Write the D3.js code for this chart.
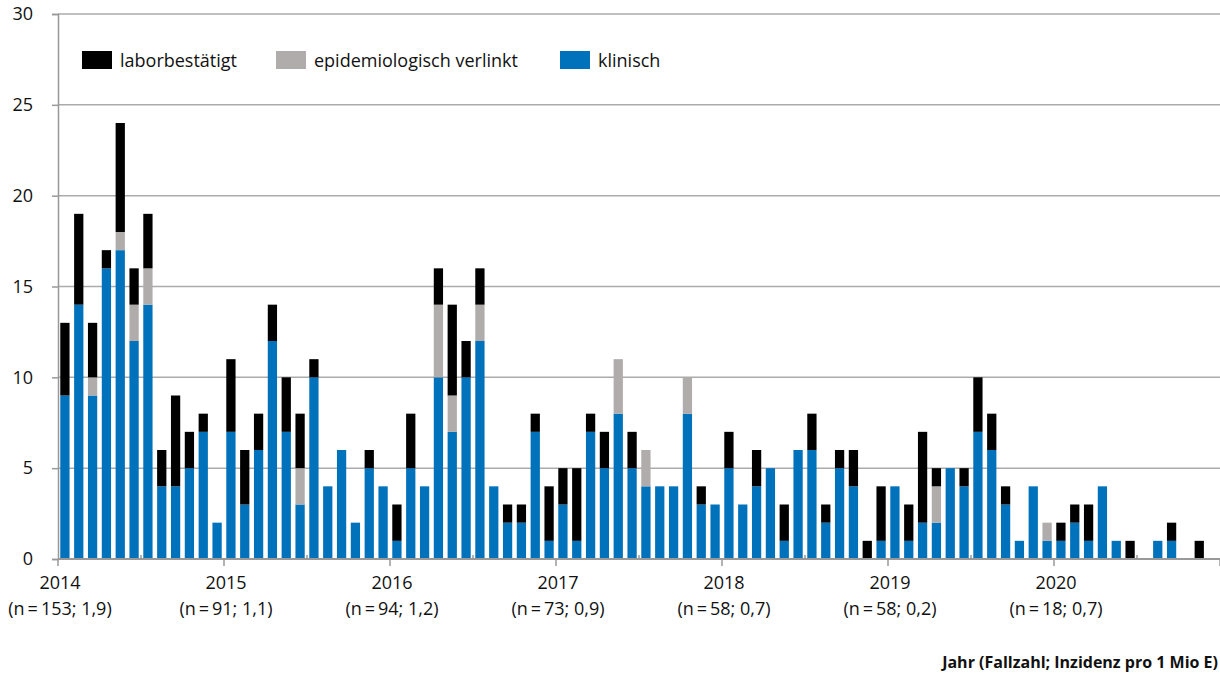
<!DOCTYPE html>
<html>
<head>
<meta charset="utf-8">
<script src="https://cdn.jsdelivr.net/npm/d3@7"></script>
<style>
  body { margin: 0; background: #fff; }
  svg { display: block; font-family: "Open Sans", Lato, sans-serif; }
</style>
</head>
<body>
<div id="chart"></div>
<script>
// monthly case counts 2014-2020 (84 months)
const klinisch = [
  9, 14, 9, 16, 17, 12, 14, 4, 4, 5, 7, 2,
  7, 3, 6, 12, 7, 3, 10, 4, 6, 2, 5, 4,
  1, 5, 4, 10, 7, 10, 12, 4, 2, 2, 7, 1,
  3, 1, 7, 5, 8, 5, 4, 4, 4, 8, 3, 3,
  5, 3, 4, 5, 1, 6, 6, 2, 5, 4, 0, 1,
  4, 1, 2, 2, 5, 4, 7, 6, 3, 1, 4, 1,
  1, 2, 1, 4, 1, 0, 0, 1, 1, 0, 0, 0
];
const epidemiologisch = [
  0, 0, 1, 0, 1, 2, 2, 0, 0, 0, 0, 0,
  0, 0, 0, 0, 0, 2, 0, 0, 0, 0, 0, 0,
  0, 0, 0, 4, 2, 0, 2, 0, 0, 0, 0, 0,
  0, 0, 0, 0, 3, 0, 2, 0, 0, 2, 0, 0,
  0, 0, 0, 0, 0, 0, 0, 0, 0, 0, 0, 0,
  0, 0, 0, 2, 0, 0, 0, 0, 0, 0, 0, 1,
  0, 0, 0, 0, 0, 0, 0, 0, 0, 0, 0, 0
];
const laborbestaetigt = [
  4, 5, 3, 1, 6, 2, 3, 2, 5, 2, 1, 0,
  4, 3, 2, 2, 3, 3, 1, 0, 0, 0, 1, 0,
  2, 3, 0, 2, 5, 2, 2, 0, 1, 1, 1, 3,
  2, 4, 1, 2, 0, 2, 0, 0, 0, 0, 1, 0,
  2, 0, 2, 0, 2, 0, 2, 1, 1, 2, 1, 3,
  0, 2, 5, 1, 0, 1, 3, 2, 1, 0, 0, 0,
  1, 1, 2, 0, 0, 1, 0, 0, 1, 0, 1, 0
];
const years = ["2014", "2015", "2016", "2017", "2018", "2019", "2020"];
const yearInfo = ["(n\u2009=\u2009153; 1,9)", "(n\u2009=\u200991; 1,1)", "(n\u2009=\u200994; 1,2)",
  "(n\u2009=\u200973; 0,9)", "(n\u2009=\u200958; 0,7)", "(n\u2009=\u200958; 0,2)", "(n\u2009=\u200918; 0,7)"];
const yTicks = [0, 5, 10, 15, 20, 25, 30];
const legendLabels = ["laborbestätigt", "epidemiologisch verlinkt", "klinisch"];

const width = 1220, height = 680;
const plotL = 58, plotR = 1220, plotT = 14, plotB = 559;
const colors = { klinisch: "#0071bb", epi: "#b0acab", labor: "#000000" };
const fontSize = 18;

const rows = klinisch.map((k, i) => ({
  i: i, klinisch: k, epi: epidemiologisch[i], labor: laborbestaetigt[i]
}));
const keys = ["klinisch", "epi", "labor"];
const stacked = d3.stack().keys(keys)(rows);

const svg = d3.select("#chart").append("svg")
  .attr("width", width)
  .attr("height", height);

const x = d3.scaleBand()
  .domain(rows.map(d => d.i))
  .range([plotL, plotR])
  .paddingInner(0.33)
  .paddingOuter(0.165);
const xt = d3.scaleLinear().domain([0, 84]).range([plotL, plotR]);
const y = d3.scaleLinear().domain([0, 30]).range([plotB, plotT]);

// gridlines
svg.append("g")
  .selectAll("line")
  .data(yTicks.filter(t => t > 0))
  .join("line")
  .attr("x1", plotL).attr("x2", plotR)
  .attr("y1", d => y(d)).attr("y2", d => y(d))
  .attr("stroke", "#ababab")
  .attr("stroke-width", 1.5);

// y axis
const yAxis = svg.append("g")
  .attr("transform", `translate(${plotL},0)`)
  .call(d3.axisLeft(y).tickValues(yTicks).tickSize(6).tickPadding(19));
yAxis.select(".domain").attr("stroke", "#999").attr("stroke-width", 1.5);
yAxis.selectAll(".tick line").attr("stroke", "#999").attr("stroke-width", 1.5);
yAxis.selectAll(".tick text")
  .attr("font-size", fontSize)
  .attr("font-family", "'Open Sans', sans-serif")
  .attr("fill", "#111");

// bars
svg.append("g")
  .selectAll("g")
  .data(stacked)
  .join("g")
  .attr("fill", d => colors[d.key])
  .selectAll("rect")
  .data(d => d.filter(s => s[1] > s[0]))
  .join("rect")
  .attr("x", s => x(s.data.i))
  .attr("width", x.bandwidth())
  .attr("y", s => y(s[1]))
  .attr("height", s => y(s[0]) - y(s[1]));

// x axis line and ticks
svg.append("line")
  .attr("x1", plotL).attr("x2", plotR)
  .attr("y1", plotB).attr("y2", plotB)
  .attr("stroke", "#999").attr("stroke-width", 2);

svg.append("g")
  .selectAll("line")
  .data(d3.range(0, 85, 12))
  .join("line")
  .attr("x1", d => xt(d)).attr("x2", d => xt(d))
  .attr("y1", plotB).attr("y2", plotB + 7)
  .attr("stroke", "#999").attr("stroke-width", 1.5);

svg.append("g")
  .selectAll("line")
  .data(d3.range(6, 84, 12))
  .join("line")
  .attr("x1", d => xt(d)).attr("x2", d => xt(d))
  .attr("y1", plotB).attr("y2", plotB - 4)
  .attr("stroke", "#999").attr("stroke-width", 1.5);

// year labels
const yl = svg.append("g")
  .attr("font-size", fontSize)
  .attr("fill", "#111")
  .attr("text-anchor", "middle");
yl.selectAll(".yr")
  .data(years)
  .join("text")
  .attr("class", "yr")
  .attr("x", (d, i) => xt(i * 12) + 2)
  .attr("y", 589)
  .text(d => d);
yl.selectAll(".info")
  .data(yearInfo)
  .join("text")
  .attr("class", "info")
  .attr("x", (d, i) => xt(i * 12) + 2)
  .attr("y", 615)
  .text(d => d);

// axis title
svg.append("text")
  .attr("x", 1218)
  .attr("y", 668)
  .attr("text-anchor", "end")
  .attr("font-size", 16)
  .attr("font-weight", "bold")
  .attr("fill", "#111")
  .text("Jahr (Fallzahl; Inzidenz pro 1 Mio E)");

// legend
const legendX = [82, 276, 560];
const legendColors = [colors.labor, colors.epi, colors.klinisch];
const lg = svg.append("g");
legendLabels.forEach((lab, i) => {
  lg.append("rect")
    .attr("x", legendX[i]).attr("y", 51)
    .attr("width", 30).attr("height", 18)
    .attr("fill", legendColors[i]);
  lg.append("text")
    .attr("x", legendX[i] + 38)
    .attr("y", 67)
    .attr("font-size", fontSize)
    .attr("fill", "#111")
    .text(lab);
});
</script>
</body>
</html>
